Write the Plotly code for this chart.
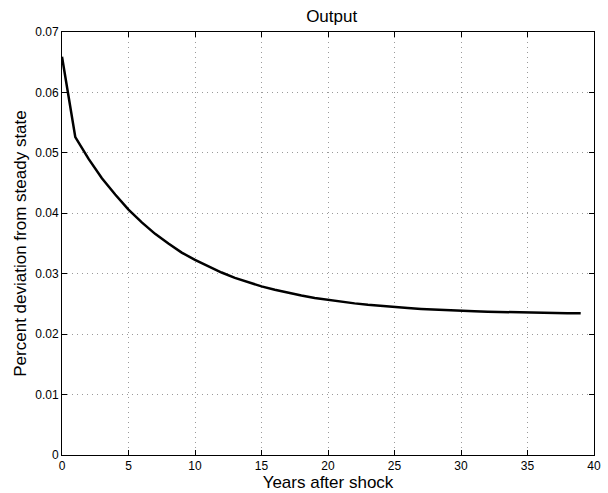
import plotly.graph_objects as go

years = list(range(40))
output_dev = [0.0659, 0.0526, 0.0490, 0.0458, 0.0431, 0.0406, 0.0385, 0.0366, 0.0350, 0.0335,
              0.03228, 0.03117, 0.03020, 0.02932, 0.02857, 0.02791, 0.02734, 0.02683, 0.02638, 0.02599,
              0.02565, 0.02535, 0.02509, 0.02485, 0.02465, 0.02447, 0.02432, 0.02418, 0.02406, 0.02395,
              0.02386, 0.02378, 0.02371, 0.02365, 0.02360, 0.02356, 0.02352, 0.02349, 0.02346, 0.02344]
x_ticks = [0, 5, 10, 15, 20, 25, 30, 35, 40]
y_ticks = [0, 0.01, 0.02, 0.03, 0.04, 0.05, 0.06, 0.07]
y_tick_labels = ["0", "0.01", "0.02", "0.03", "0.04", "0.05", "0.06", "0.07"]

font_family = "Liberation Sans, Arial, Helvetica, sans-serif"

fig = go.Figure()
fig.add_trace(go.Scatter(x=years, y=output_dev, mode="lines",
                         line=dict(color="black", width=2.5), showlegend=False))

axis_common = dict(
    showline=True, linecolor="black", linewidth=1, mirror="allticks",
    ticks="inside", ticklen=5, tickcolor="black", tickwidth=1,
    showgrid=True, gridcolor="#9a9a9a", griddash="1px,4px", gridwidth=1,
    zeroline=False, tickfont=dict(family=font_family, size=12, color="black"),
    ticklabeloverflow="allow",
)

fig.update_layout(
    width=608, height=493,
    margin=dict(l=62, r=7, t=32, b=38),
    paper_bgcolor="white", plot_bgcolor="white",
    title=dict(text="Output", x=0.5455, xanchor="center", yref="container",
               y=1 - 16.5 / 493, yanchor="middle",
               font=dict(family=font_family, size=17, color="black")),
    xaxis=dict(range=[0, 40], tickvals=x_ticks,
               title=dict(text="Years after shock", standoff=0,
                          font=dict(family=font_family, size=17, color="black")),
               **axis_common),
    yaxis=dict(range=[0, 0.07], tickvals=y_ticks, ticktext=y_tick_labels,
               title=dict(text="Percent deviation from steady state", standoff=4,
                          font=dict(family=font_family, size=17, color="black")),
               **axis_common),
)

fig.write_html("out.html")
